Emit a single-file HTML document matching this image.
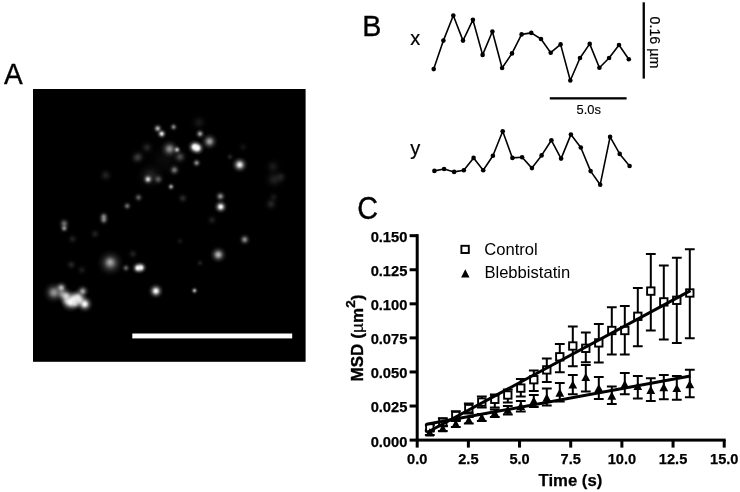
<!DOCTYPE html>
<html lang="en"><head><meta charset="utf-8"><title>Figure</title>
<style>
html,body{margin:0;padding:0;background:#fff;}
body{width:740px;height:492px;overflow:hidden;}
svg{display:block;}
text{font-family:"Liberation Sans",Arial,Helvetica,sans-serif;fill:#000;}
.b{font-weight:bold;stroke:#000;stroke-width:0.25px;}
</style></head><body>
<svg width="740" height="492" viewBox="0 0 740 492">
<defs>
<radialGradient id="g"><stop offset="0" stop-color="#fff" stop-opacity="1"/><stop offset="0.15" stop-color="#fff" stop-opacity="0.92"/><stop offset="0.3" stop-color="#fff" stop-opacity="0.68"/><stop offset="0.45" stop-color="#fff" stop-opacity="0.4"/><stop offset="0.6" stop-color="#fff" stop-opacity="0.2"/><stop offset="0.8" stop-color="#fff" stop-opacity="0.06"/><stop offset="1" stop-color="#fff" stop-opacity="0"/></radialGradient>
</defs>
<rect width="740" height="492" fill="#fff"/>
<!-- Panel A -->
<text transform="translate(3.9,84.1) scale(0.93,1)" font-size="30.2" stroke="#000" stroke-width="0.35">A</text>
<rect x="33" y="89" width="272.6" height="272.8" fill="#000"/>
<g>
<circle cx="157.7" cy="128.5" r="5.6" fill="url(#g)" opacity="0.68"/>
<circle cx="161.7" cy="133.8" r="5.6" fill="url(#g)" opacity="0.89"/>
<circle cx="173.6" cy="127" r="4.9" fill="url(#g)" opacity="0.51"/>
<circle cx="200" cy="133.8" r="5.6" fill="url(#g)" opacity="0.62"/>
<circle cx="209.5" cy="141.5" r="9.1" fill="url(#g)" opacity="0.62"/>
<circle cx="194.5" cy="146.8" r="7.6" fill="url(#g)" opacity="1.00"/>
<circle cx="197.6" cy="148.2" r="7.6" fill="url(#g)" opacity="1.00"/>
<circle cx="196" cy="147.5" r="4.9" fill="url(#g)" opacity="1.00"/>
<circle cx="169.6" cy="148.9" r="9.9" fill="url(#g)" opacity="0.54"/>
<circle cx="177" cy="149.7" r="4.9" fill="url(#g)" opacity="0.70"/>
<circle cx="196.6" cy="162.9" r="5.3" fill="url(#g)" opacity="0.54"/>
<circle cx="239.7" cy="164.8" r="8.6" fill="url(#g)" opacity="0.93"/>
<circle cx="174.4" cy="170" r="6.6" fill="url(#g)" opacity="0.45"/>
<circle cx="148" cy="179.3" r="5.9" fill="url(#g)" opacity="0.82"/>
<circle cx="150" cy="176" r="14.8" fill="url(#g)" opacity="0.14"/>
<circle cx="171" cy="186.7" r="4.6" fill="url(#g)" opacity="0.62"/>
<circle cx="220.4" cy="196.4" r="6.3" fill="url(#g)" opacity="0.54"/>
<circle cx="220.7" cy="206.8" r="7.3" fill="url(#g)" opacity="1.00"/>
<circle cx="138.5" cy="197.5" r="5.6" fill="url(#g)" opacity="0.37"/>
<circle cx="182.8" cy="198.3" r="6.6" fill="url(#g)" opacity="0.16"/>
<circle cx="147" cy="147.5" r="8.2" fill="url(#g)" opacity="0.14"/>
<circle cx="136.6" cy="158" r="8.2" fill="url(#g)" opacity="0.13"/>
<circle cx="230" cy="156.8" r="4.9" fill="url(#g)" opacity="0.14"/>
<circle cx="212" cy="220" r="6.6" fill="url(#g)" opacity="0.12"/>
<circle cx="199" cy="122.5" r="9.9" fill="url(#g)" opacity="0.09"/>
<circle cx="180" cy="156.8" r="8.2" fill="url(#g)" opacity="0.29"/>
<circle cx="158.3" cy="179.3" r="6.6" fill="url(#g)" opacity="0.33"/>
<circle cx="127.2" cy="206" r="5.3" fill="url(#g)" opacity="0.41"/>
<circle cx="103.8" cy="216.5" r="5.9" fill="url(#g)" opacity="0.45"/>
<circle cx="103.8" cy="220" r="5.9" fill="url(#g)" opacity="0.45"/>
<circle cx="64.2" cy="223.5" r="6.6" fill="url(#g)" opacity="0.41"/>
<circle cx="64.2" cy="228.3" r="5.3" fill="url(#g)" opacity="0.54"/>
<circle cx="72.6" cy="239" r="6.6" fill="url(#g)" opacity="0.12"/>
<circle cx="95" cy="234" r="6.6" fill="url(#g)" opacity="0.12"/>
<circle cx="110.4" cy="262.9" r="14.0" fill="url(#g)" opacity="0.49"/>
<circle cx="110" cy="262" r="6.6" fill="url(#g)" opacity="0.33"/>
<circle cx="71.3" cy="264.7" r="6.6" fill="url(#g)" opacity="0.14"/>
<circle cx="81.9" cy="270" r="6.6" fill="url(#g)" opacity="0.10"/>
<circle cx="126" cy="268" r="5.3" fill="url(#g)" opacity="0.37"/>
<circle cx="137.8" cy="268" r="6.6" fill="url(#g)" opacity="0.99"/>
<circle cx="141" cy="267.6" r="6.6" fill="url(#g)" opacity="0.99"/>
<circle cx="155.9" cy="291" r="8.2" fill="url(#g)" opacity="1.00"/>
<circle cx="132.9" cy="254" r="6.6" fill="url(#g)" opacity="0.12"/>
<circle cx="54" cy="292.5" r="11.5" fill="url(#g)" opacity="0.58"/>
<circle cx="61.3" cy="287.8" r="7.3" fill="url(#g)" opacity="0.70"/>
<circle cx="62" cy="294" r="7.4" fill="url(#g)" opacity="0.41"/>
<circle cx="66" cy="296" r="9.1" fill="url(#g)" opacity="0.78"/>
<circle cx="70.5" cy="302" r="10.7" fill="url(#g)" opacity="0.99"/>
<circle cx="77.9" cy="297.4" r="9.1" fill="url(#g)" opacity="0.82"/>
<circle cx="82.7" cy="291.3" r="7.3" fill="url(#g)" opacity="0.62"/>
<circle cx="84.7" cy="304" r="9.1" fill="url(#g)" opacity="1.00"/>
<circle cx="74" cy="299" r="9.1" fill="url(#g)" opacity="0.82"/>
<circle cx="80" cy="300.5" r="8.2" fill="url(#g)" opacity="0.70"/>
<circle cx="67" cy="301" r="7.4" fill="url(#g)" opacity="0.49"/>
<circle cx="75" cy="303.5" r="7.4" fill="url(#g)" opacity="0.62"/>
<circle cx="244.7" cy="239.6" r="6.6" fill="url(#g)" opacity="0.54"/>
<circle cx="218.3" cy="254.7" r="9.1" fill="url(#g)" opacity="0.70"/>
<circle cx="194.5" cy="290.6" r="4.3" fill="url(#g)" opacity="0.66"/>
<circle cx="271" cy="204" r="8.2" fill="url(#g)" opacity="0.14"/>
<circle cx="200" cy="263" r="4.9" fill="url(#g)" opacity="0.12"/>
<circle cx="180" cy="241" r="4.9" fill="url(#g)" opacity="0.09"/>
<circle cx="273" cy="166.6" r="9.9" fill="url(#g)" opacity="0.10"/>
<circle cx="274" cy="179.5" r="11.5" fill="url(#g)" opacity="0.12"/>
<circle cx="280.8" cy="177" r="8.2" fill="url(#g)" opacity="0.12"/>
<circle cx="243" cy="147" r="6.6" fill="url(#g)" opacity="0.07"/>
<circle cx="105.7" cy="175.3" r="8.2" fill="url(#g)" opacity="0.13"/>
<circle cx="138.7" cy="156.8" r="8.2" fill="url(#g)" opacity="0.14"/>
<circle cx="165" cy="160" r="23.1" fill="url(#g)" opacity="0.04"/>
<circle cx="273.7" cy="197" r="6.6" fill="url(#g)" opacity="0.09"/>
</g>
<rect x="132.3" y="333.5" width="159.9" height="4.9" fill="#fff"/>
<!-- Panel B -->
<text transform="translate(362.3,36.2) scale(0.955,1)" font-size="30" stroke="#000" stroke-width="0.35">B</text>
<text x="410.3" y="45.1" font-size="20" stroke="#000" stroke-width="0.2">x</text>
<text x="410.3" y="154.7" font-size="20" stroke="#000" stroke-width="0.2">y</text>
<polyline fill="none" stroke="#000" stroke-width="1.6" stroke-linejoin="round" points="433.7,69.1 443.4,40.6 453.3,15.5 463,40.6 472.9,19.8 482.6,54.9 492.4,31.5 502.1,68 512,53.4 521.6,34.4 531.3,32.9 541,39 550.7,52.7 560.6,44.4 570.3,80.5 580,58 589.7,43.9 599.4,67.7 609.1,58 619,45 628.8,59.3"/>
<g fill="#000"><circle cx="433.7" cy="69.1" r="2.3"/><circle cx="443.4" cy="40.6" r="2.3"/><circle cx="453.3" cy="15.5" r="2.3"/><circle cx="463" cy="40.6" r="2.3"/><circle cx="472.9" cy="19.8" r="2.3"/><circle cx="482.6" cy="54.9" r="2.3"/><circle cx="492.4" cy="31.5" r="2.3"/><circle cx="502.1" cy="68" r="2.3"/><circle cx="512" cy="53.4" r="2.3"/><circle cx="521.6" cy="34.4" r="2.3"/><circle cx="531.3" cy="32.9" r="2.3"/><circle cx="541" cy="39" r="2.3"/><circle cx="550.7" cy="52.7" r="2.3"/><circle cx="560.6" cy="44.4" r="2.3"/><circle cx="570.3" cy="80.5" r="2.3"/><circle cx="580" cy="58" r="2.3"/><circle cx="589.7" cy="43.9" r="2.3"/><circle cx="599.4" cy="67.7" r="2.3"/><circle cx="609.1" cy="58" r="2.3"/><circle cx="619" cy="45" r="2.3"/><circle cx="628.8" cy="59.3" r="2.3"/></g>
<polyline fill="none" stroke="#000" stroke-width="1.6" stroke-linejoin="round" points="434.4,170.9 444.1,169 454.1,171.9 463.8,170.2 473.6,157.9 483.2,170.2 492.9,155.8 502.7,131.2 512.4,157.9 522.1,157.3 531.9,168.1 541.6,155.4 551.4,140.3 561.1,158.6 570.9,134.6 580.8,147.5 590.6,171.1 600.2,184.7 610.1,136.9 619.7,153.9 629.6,166"/>
<g fill="#000"><circle cx="434.4" cy="170.9" r="2.3"/><circle cx="444.1" cy="169" r="2.3"/><circle cx="454.1" cy="171.9" r="2.3"/><circle cx="463.8" cy="170.2" r="2.3"/><circle cx="473.6" cy="157.9" r="2.3"/><circle cx="483.2" cy="170.2" r="2.3"/><circle cx="492.9" cy="155.8" r="2.3"/><circle cx="502.7" cy="131.2" r="2.3"/><circle cx="512.4" cy="157.9" r="2.3"/><circle cx="522.1" cy="157.3" r="2.3"/><circle cx="531.9" cy="168.1" r="2.3"/><circle cx="541.6" cy="155.4" r="2.3"/><circle cx="551.4" cy="140.3" r="2.3"/><circle cx="561.1" cy="158.6" r="2.3"/><circle cx="570.9" cy="134.6" r="2.3"/><circle cx="580.8" cy="147.5" r="2.3"/><circle cx="590.6" cy="171.1" r="2.3"/><circle cx="600.2" cy="184.7" r="2.3"/><circle cx="610.1" cy="136.9" r="2.3"/><circle cx="619.7" cy="153.9" r="2.3"/><circle cx="629.6" cy="166" r="2.3"/></g>
<rect x="642.6" y="2.3" width="2.3" height="76.3" fill="#000"/>
<rect x="549.8" y="97.2" width="76.8" height="2.3" fill="#000"/>
<text x="588.8" y="114" font-size="13.6" stroke="#000" stroke-width="0.15" text-anchor="middle" textLength="24.4" lengthAdjust="spacingAndGlyphs">5.0s</text>
<text transform="translate(649.9,16.5) rotate(90)" font-size="14.4" stroke="#000" stroke-width="0.2" textLength="51.8" lengthAdjust="spacingAndGlyphs">0.16 µm</text>
<!-- Panel C -->
<text transform="translate(357.2,218.9) scale(0.935,1)" font-size="30.8" stroke="#000" stroke-width="0.35">C</text>
<rect x="415.7" y="234.2" width="3" height="213.40000000000003" fill="#000"/>
<rect x="409.6" y="438.6" width="316.1" height="3" fill="#000"/>
<text class="b" x="407.4" y="446.50" font-size="14.7" text-anchor="end">0.000</text>
<rect x="409.6" y="404.53" width="8" height="3" fill="#000"/>
<text class="b" x="407.4" y="412.43" font-size="14.7" text-anchor="end">0.025</text>
<rect x="409.6" y="370.46" width="8" height="3" fill="#000"/>
<text class="b" x="407.4" y="378.36" font-size="14.7" text-anchor="end">0.050</text>
<rect x="409.6" y="336.39" width="8" height="3" fill="#000"/>
<text class="b" x="407.4" y="344.29" font-size="14.7" text-anchor="end">0.075</text>
<rect x="409.6" y="302.32" width="8" height="3" fill="#000"/>
<text class="b" x="407.4" y="310.22" font-size="14.7" text-anchor="end">0.100</text>
<rect x="409.6" y="268.25" width="8" height="3" fill="#000"/>
<text class="b" x="407.4" y="276.15" font-size="14.7" text-anchor="end">0.125</text>
<rect x="409.6" y="234.18" width="8" height="3" fill="#000"/>
<text class="b" x="407.4" y="242.08" font-size="14.7" text-anchor="end">0.150</text>
<text class="b" x="417.20" y="463.7" font-size="14.6" text-anchor="middle">0.0</text>
<rect x="466.87" y="440.1" width="3" height="7.5" fill="#000"/>
<text class="b" x="468.37" y="463.7" font-size="14.6" text-anchor="middle">2.5</text>
<rect x="518.04" y="440.1" width="3" height="7.5" fill="#000"/>
<text class="b" x="519.54" y="463.7" font-size="14.6" text-anchor="middle">5.0</text>
<rect x="569.21" y="440.1" width="3" height="7.5" fill="#000"/>
<text class="b" x="570.71" y="463.7" font-size="14.6" text-anchor="middle">7.5</text>
<rect x="620.38" y="440.1" width="3" height="7.5" fill="#000"/>
<text class="b" x="621.88" y="463.7" font-size="14.6" text-anchor="middle">10.0</text>
<rect x="671.55" y="440.1" width="3" height="7.5" fill="#000"/>
<text class="b" x="673.05" y="463.7" font-size="14.6" text-anchor="middle">12.5</text>
<rect x="722.72" y="440.1" width="3" height="7.5" fill="#000"/>
<text class="b" x="724.22" y="463.7" font-size="14.6" text-anchor="middle">15.0</text>
<text class="b" x="570.4" y="485.9" font-size="16.7" text-anchor="middle">Time (s)</text>
<text transform="translate(363.1,381.6) rotate(-90)" font-size="17" letter-spacing="0.1" font-weight="bold" stroke="#000" stroke-width="0.35"><tspan font-weight="bold">MSD (</tspan><tspan font-weight="normal" stroke-width="0.15">µ</tspan><tspan font-weight="bold">m</tspan><tspan font-weight="bold" font-size="13.5" dy="-7.9">2</tspan><tspan font-weight="bold" dy="7.9">)</tspan></text>
<rect x="461.4" y="245.8" width="7.4" height="7.2" fill="#fff" stroke="#000" stroke-width="1.9"/>
<path d="M465.3 269.3 L469.5 277.4 L461.1 277.4 Z" fill="#000"/>
<text x="484.3" y="254.7" font-size="16.6">Control</text>
<text x="484.4" y="278.4" font-size="16.6">Blebbistatin</text>
<path d="M429.8 425V431M424.90000000000003 425H434.7M424.90000000000003 431H434.7M442.8 418.3V426.3M437.90000000000003 418.3H447.7M437.90000000000003 426.3H447.7M455.8 411.2V420.2M450.90000000000003 411.2H460.7M450.90000000000003 420.2H460.7M468.8 403.5V413.5M463.90000000000003 403.5H473.7M463.90000000000003 413.5H473.7M481.8 396.5V407.5M476.90000000000003 396.5H486.7M476.90000000000003 407.5H486.7M494.8 394.5V407.5M489.90000000000003 394.5H499.7M489.90000000000003 407.5H499.7M507.8 389.5V402.5M502.90000000000003 389.5H512.7M502.90000000000003 402.5H512.7M520.8 379V396.5M515.9 379H525.6999999999999M515.9 396.5H525.6999999999999M533.8 370.5V391M528.9 370.5H538.6999999999999M528.9 391H538.6999999999999M546.8 358.5V382M541.9 358.5H551.6999999999999M541.9 382H551.6999999999999M559.8 344V372.2M554.9 344H564.6999999999999M554.9 372.2H564.6999999999999M572.8 326.6V366.3M567.9 326.6H577.6999999999999M567.9 366.3H577.6999999999999M585.8 332.4V362.3M580.9 332.4H590.6999999999999M580.9 362.3H590.6999999999999M598.8 323.9V362.6M593.9 323.9H603.6999999999999M593.9 362.6H603.6999999999999M611.8 307.3V354.4M606.9 307.3H616.6999999999999M606.9 354.4H616.6999999999999M624.8 306.1V354.4M619.9 306.1H629.6999999999999M619.9 354.4H629.6999999999999M637.8 288V346.2M632.9 288H642.6999999999999M632.9 346.2H642.6999999999999M650.8 254V330.5M645.9 254H655.6999999999999M645.9 330.5H655.6999999999999M663.8 265.6V339.4M658.9 265.6H668.6999999999999M658.9 339.4H668.6999999999999M676.8 257.8V342.9M671.9 257.8H681.6999999999999M671.9 342.9H681.6999999999999M689.8 249.3V338.2M684.9 249.3H694.6999999999999M684.9 338.2H694.6999999999999" stroke="#000" stroke-width="2" fill="none"/>
<path d="M429.8 430V435M424.90000000000003 430H434.7M424.90000000000003 435H434.7M442.8 426V431M437.90000000000003 426H447.7M437.90000000000003 431H447.7M455.8 421V427M450.90000000000003 421H460.7M450.90000000000003 427H460.7M468.8 417V423.5M463.90000000000003 417H473.7M463.90000000000003 423.5H473.7M481.8 414V421M476.90000000000003 414H486.7M476.90000000000003 421H486.7M494.8 409.5V417M489.90000000000003 409.5H499.7M489.90000000000003 417H499.7M507.8 406V414.5M502.90000000000003 406H512.7M502.90000000000003 414.5H512.7M520.8 401V411.5M515.9 401H525.6999999999999M515.9 411.5H525.6999999999999M533.8 395V407M528.9 395H538.6999999999999M528.9 407H538.6999999999999M546.8 388.5V405.5M541.9 388.5H551.6999999999999M541.9 405.5H551.6999999999999M559.8 382.9V401.5M554.9 382.9H564.6999999999999M554.9 401.5H564.6999999999999M572.8 375V394.3M567.9 375H577.6999999999999M567.9 394.3H577.6999999999999M585.8 365.1V391.5M580.9 365.1H590.6999999999999M580.9 391.5H590.6999999999999M598.8 376.9V399M593.9 376.9H603.6999999999999M593.9 399H603.6999999999999M611.8 386.5V404M606.9 386.5H616.6999999999999M606.9 404H616.6999999999999M624.8 373V394.2M619.9 373H629.6999999999999M619.9 394.2H629.6999999999999M637.8 376V398.6M632.9 376H642.6999999999999M632.9 398.6H642.6999999999999M650.8 378.3V401M645.9 378.3H655.6999999999999M645.9 401H655.6999999999999M663.8 375V399.3M658.9 375H668.6999999999999M658.9 399.3H668.6999999999999M676.8 376V399.8M671.9 376H681.6999999999999M671.9 399.8H681.6999999999999M689.8 369.7V397.3M684.9 369.7H694.6999999999999M684.9 397.3H694.6999999999999" stroke="#000" stroke-width="2" fill="none"/>
<g fill="#fff" stroke="#000" stroke-width="1.9"><rect x="426.1" y="424.2" width="7.4" height="7.4"/><rect x="439.1" y="418.6" width="7.4" height="7.4"/><rect x="452.1" y="411.9" width="7.4" height="7.4"/><rect x="465.1" y="404.9" width="7.4" height="7.4"/><rect x="478.1" y="398.4" width="7.4" height="7.4"/><rect x="491.1" y="395.6" width="7.4" height="7.4"/><rect x="504.1" y="391.3" width="7.4" height="7.4"/><rect x="517.1" y="384.4" width="7.4" height="7.4"/><rect x="530.1" y="376.0" width="7.4" height="7.4"/><rect x="543.1" y="366.2" width="7.4" height="7.4"/><rect x="556.1" y="353.1" width="7.4" height="7.4"/><rect x="569.1" y="342.3" width="7.4" height="7.4"/><rect x="582.1" y="344.6" width="7.4" height="7.4"/><rect x="595.1" y="339.2" width="7.4" height="7.4"/><rect x="608.1" y="326.8" width="7.4" height="7.4"/><rect x="621.1" y="326.8" width="7.4" height="7.4"/><rect x="634.1" y="312.6" width="7.4" height="7.4"/><rect x="647.1" y="287.4" width="7.4" height="7.4"/><rect x="660.1" y="298.2" width="7.4" height="7.4"/><rect x="673.1" y="296.6" width="7.4" height="7.4"/><rect x="686.1" y="289.3" width="7.4" height="7.4"/></g>
<g fill="#000"><path d="M429.8 428.2l4.4 8.2h-8.8z"/><path d="M442.8 424.0l4.4 8.2h-8.8z"/><path d="M455.8 419.6l4.4 8.2h-8.8z"/><path d="M468.8 415.7l4.4 8.2h-8.8z"/><path d="M481.8 413.0l4.4 8.2h-8.8z"/><path d="M494.8 408.7l4.4 8.2h-8.8z"/><path d="M507.8 405.6l4.4 8.2h-8.8z"/><path d="M520.8 401.8l4.4 8.2h-8.8z"/><path d="M533.8 396.5l4.4 8.2h-8.8z"/><path d="M546.8 393.5l4.4 8.2h-8.8z"/><path d="M559.8 388.6l4.4 8.2h-8.8z"/><path d="M572.8 380.4l4.4 8.2h-8.8z"/><path d="M585.8 372.9l4.4 8.2h-8.8z"/><path d="M598.8 383.9l4.4 8.2h-8.8z"/><path d="M611.8 391.6l4.4 8.2h-8.8z"/><path d="M624.8 380.0l4.4 8.2h-8.8z"/><path d="M637.8 381.9l4.4 8.2h-8.8z"/><path d="M650.8 385.8l4.4 8.2h-8.8z"/><path d="M663.8 383.1l4.4 8.2h-8.8z"/><path d="M676.8 383.9l4.4 8.2h-8.8z"/><path d="M689.8 380.0l4.4 8.2h-8.8z"/></g>
<line x1="426.5" y1="432.8" x2="690.5" y2="290.6" stroke="#000" stroke-width="3"/>
<line x1="426.5" y1="424.3" x2="690.5" y2="376.1" stroke="#000" stroke-width="3"/>
</svg></body></html>
